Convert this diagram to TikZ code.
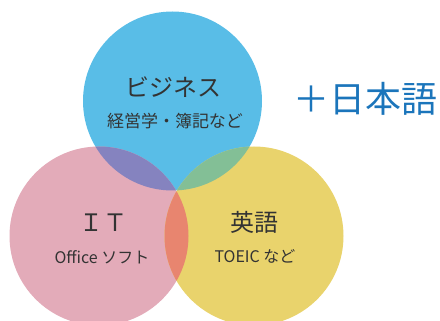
\documentclass[tikz,border=0pt]{standalone}
\usepackage{fontspec}
\setmainfont{Noto Sans CJK JP}
\definecolor{bizblue}{HTML}{59BDE7}
\definecolor{itpink}{HTML}{E3ABB9}
\definecolor{engyellow}{HTML}{E9D36C}
\definecolor{bizit}{HTML}{8583BF}
\definecolor{bizeng}{HTML}{83BF96}
\definecolor{iteng}{HTML}{E8856F}
\definecolor{labelgray}{HTML}{333333}
\definecolor{jpblue}{HTML}{1B75BB}
\begin{document}
\begin{tikzpicture}[x=1pt,y=-1pt]
		\tikzstyle{every node}+=[inner sep=0pt, text=labelgray]
		\tikzstyle{big}=[font=\fontsize{24}{24}\selectfont]
		\tikzstyle{small}=[font=\fontsize{16}{16}\selectfont]
		\useasboundingbox (0,0) rectangle (440,321);
		% the three fields
		\fill [bizblue] (172.5,101) circle (89.5);
		\fill [itpink] (99,236) circle (89.5);
		\fill [engyellow] (254,236) circle (89.5);
		% overlaps
		\begin{scope}
			\clip (172.5,101) circle (89.5);
			\fill [bizit] (99,236) circle (89.5);
			\fill [bizeng] (254,236) circle (89.5);
		\end{scope}
		\begin{scope}
			\clip (99,236) circle (89.5);
			\fill [iteng] (254,236) circle (89.5);
		\end{scope}
		% labels
		\node [big] (biz) at (173,87) {ビジネス};
		\node [small, font=\fontsize{17}{17}\selectfont] (bizsub) at (175,121) {経営学・簿記など};
		\node [big] (it) at (103,223) {ＩＴ};
		\node [small] (itsub) at (102,257) {Office ソフト};
		\node [big] (eng) at (254,222) {英語};
		\node [small] (engsub) at (255,256) {TOEIC など};
		\node [font=\fontsize{36}{36}\selectfont, text=jpblue] (jp) at (365,99) {＋日本語};
	\end{tikzpicture}
\end{document}
